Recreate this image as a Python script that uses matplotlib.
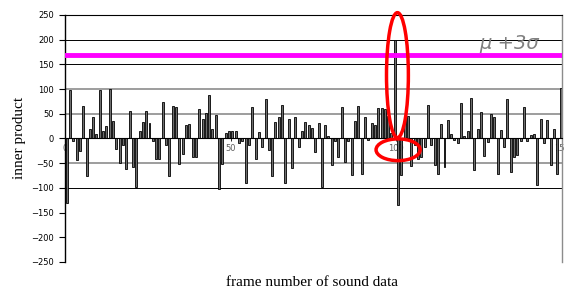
import matplotlib as mpl
mpl.use('Agg')
from matplotlib import pyplot as plt
from matplotlib.patches import Ellipse
import numpy as np

# Inner product per frame
inner_product = [
    -131, 97, -5, -44, -25, 66, -76, 19, 44, 9,
    97, 16, 25, 100, 35, -21, -49, -14, -61, 56,
    -57, -98, 14, 33, 55, 32, -5, -42, -41, 74,
    -13, -77, 65, 63, -51, -32, 27, 29, -38, -38,
    59, 40, 51, 87, 20, 47, -102, -51, 10, 16,
    16, 15, -10, -6, -91, -13, 64, -41, 12, -17,
    80, -24, -76, 34, 43, 67, -91, 40, -59, 44,
    -18, 14, 34, 28, 21, -27, 31, -98, 27, 5,
    -54, -5, -38, 64, -47, -5, -74, 35, 66, -73,
    43, -3, 32, 28, 61, 61, 60, 45, 10, 200,
    -135, -74, 42, 45, -55, -14, -42, -38, -18, 68,
    -14, -53, -72, 29, -57, 37, 9, -4, -10, 71,
    5, 16, 81, -64, 19, 54, -35, -7, 50, 43,
    -73, 17, -18, 79, -67, -38, -34, -6, 63, -6,
    6, 9, -95, 39, -10, 37, -54, 19, -72, 102,
]
frames = np.arange(1, len(inner_product) + 1)

threshold = 168          # mu + 3 sigma
y_ticks = np.arange(-250, 251, 50)
x_ticks = [0, 50, 100, 150]
grid_black = [200, 150, -100]
grid_gray = [100, 50, -50]

fig = plt.figure(figsize=(5.65, 2.92), dpi=100)
ax = fig.add_axes([0.115, 0.103, 0.880, 0.846])

ax.bar(frames - 0.5, inner_product, width=0.6, color='#6e6e6e',
       edgecolor='black', linewidth=0.6, zorder=2)

for g in grid_black:
    ax.axhline(g, color='black', lw=0.7, zorder=1)
for g in grid_gray:
    ax.axhline(g, color='#8c8c8c', lw=1.2, zorder=1)

ax.axhline(threshold, color='#ff00ff', lw=3.5, zorder=3)
ax.text(134, 192, '\u03bc +3\u03c3', fontsize=14, color='#808080',
        ha='center', va='center', style='italic', zorder=4)

# red ellipses marking the peak
ax.add_patch(Ellipse((100.3, 128), 6.6, 253, fill=False, ec='red', lw=2.5,
                     zorder=5, clip_on=False))
ax.add_patch(Ellipse((100.5, -23), 13.3, 44, fill=False, ec='red', lw=2.5,
                     zorder=5, clip_on=False))

ax.set_xlim(0, 150)
ax.set_ylim(-250, 250)
ax.set_yticks(y_ticks)
ax.set_xticks(x_ticks)
ax.set_axisbelow(True)

ax.spines['bottom'].set_position(('data', 0))
ax.spines['bottom'].set_linewidth(0.8)
ax.spines['top'].set_linewidth(0.8)
ax.spines['left'].set_linewidth(1.0)
ax.spines['right'].set_color('#8c8c8c')
ax.spines['right'].set_linewidth(1.0)

ax.tick_params(axis='y', direction='out', length=4, width=0.8,
               labelsize=6, pad=4)
ax.tick_params(axis='x', direction='out', length=2, width=0.6,
               labelsize=6, labelcolor='#606060', pad=2)

ax.set_ylabel('inner product', family='Liberation Serif', fontsize=11,
              labelpad=4)
fig.text(0.553, 0.031, 'frame number of sound data',
         family='Liberation Serif', fontsize=11, ha='center', va='center')

fig.savefig('out.png', dpi=100)
